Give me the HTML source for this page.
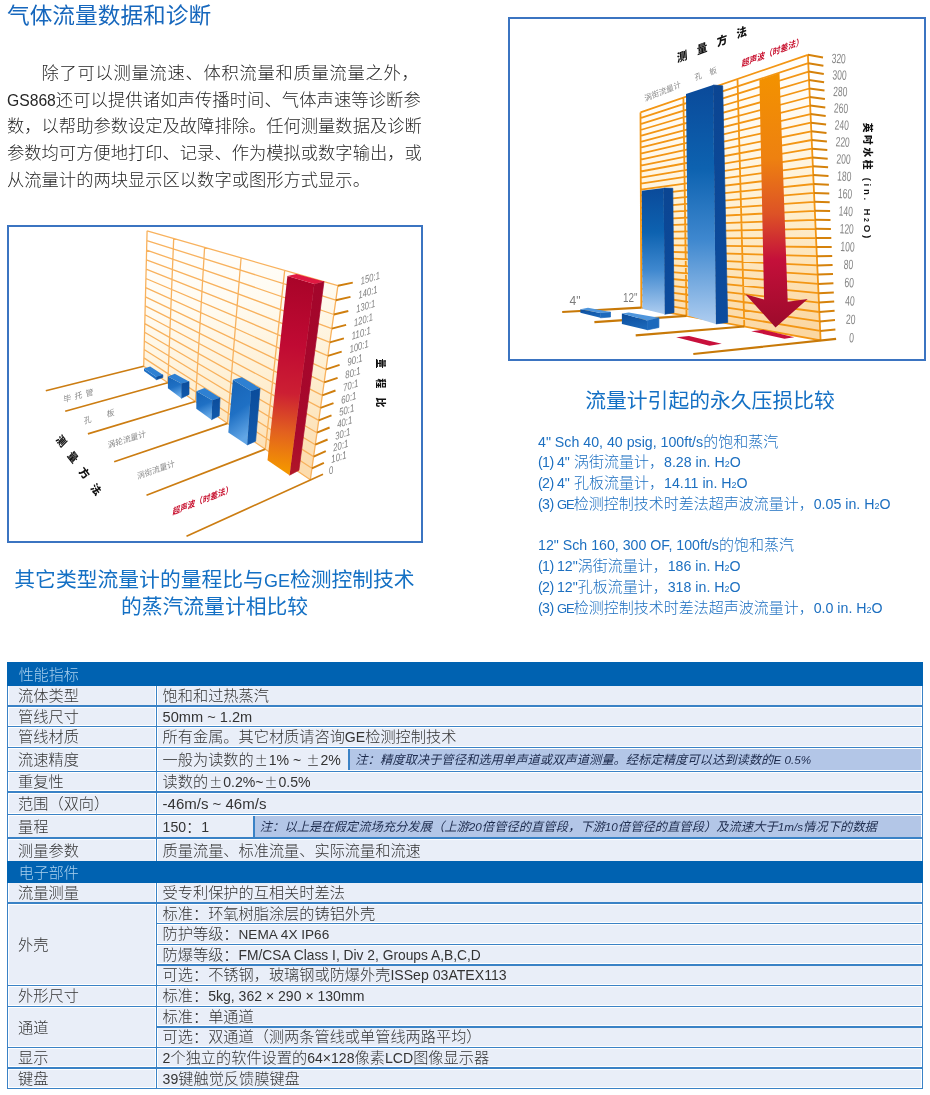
<!DOCTYPE html>
<html lang="zh-CN">
<head>
<meta charset="utf-8">
<title>气体流量数据和诊断</title>
<style>
html,body{margin:0;padding:0;background:#fff;}
body{width:930px;height:1095px;position:relative;overflow:hidden;font-family:"Liberation Sans","Noto Sans CJK SC",sans-serif;color:#333;}
.abs{position:absolute;white-space:nowrap;}
h1{position:absolute;left:7px;top:0px;margin:0;font-size:22.7px;line-height:30px;font-weight:400;color:#1667bd;white-space:nowrap;transform:scaleY(0.96);transform-origin:0 25px;}
.para{position:absolute;left:7px;top:60px;width:420px;font-size:17.3px;line-height:26.7px;font-weight:300;color:#262626;white-space:nowrap;}
.box{position:absolute;border:2px solid #3b74c1;background:#fff;box-sizing:border-box;}
.cap{position:absolute;font-size:20.8px;line-height:26.6px;font-weight:400;color:#1470c4;text-align:center;white-space:nowrap;}
.list{position:absolute;left:538px;top:431.5px;font-size:15px;line-height:20.8px;font-weight:300;color:#1c6fc0;white-space:nowrap;}
.list sub .l{font-size:9px;}
.list sub{font-size:9px;vertical-align:baseline;position:relative;top:0;line-height:0;}
.list .p{letter-spacing:-0.6px;}
.list .ge{font-size:13px;letter-spacing:-1px;}
/* table */
.tbl{position:absolute;background:#fff;}
.hl{position:absolute;height:1.6px;background:#3a82c6;}
.vl{position:absolute;width:1.4px;background:#3a82c6;}
.r{position:absolute;left:0;right:2.1px;background:#e9eef8;font-size:15.2px;font-weight:300;color:#333;white-space:nowrap;}
.h{position:absolute;left:0;right:0;background:#0062b1;z-index:2;color:#a9d0ee;font-size:15px;font-weight:300;white-space:nowrap;}
.c1{position:absolute;left:9.5px;top:0;}
.c2{position:absolute;left:4.5px;top:0;}
.h .c1{left:12.2px;}
.l{font-size:14.2px;line-height:0;}
.tbl .l{font-size:14.1px;}
.ln{font-size:11.7px;}
.pm{font-family:"Noto Sans CJK SC",sans-serif;display:inline-block;width:15px;text-align:center;font-size:13px;}
.vd{position:absolute;left:149px;width:2px;background:#3a82c6;}
.note{position:absolute;top:0;bottom:0;right:0;background:#b3c6e7;border-left:2px solid #3a82c6;font-size:12.3px;font-style:italic;font-weight:400;color:#1d2b4d;padding-left:5px;}
</style>
</head>
<body>
<h1>气体流量数据和诊断</h1>
<div class="para">　　<span style="letter-spacing:0.72px">除了可以测量流速、体积流量和质量流量之外，</span><br><span style="font-size:15.7px;line-height:0">GS868</span><span style="letter-spacing:0.1px">还可以提供诸如声传播时间、气体声速等诊断参</span><br>数，以帮助参数设定及故障排除。任何测量数据及诊断<br>参数均可方便地打印、记录、作为模拟或数字输出，或<br>从流量计的两块显示区以数字或图形方式显示。</div>

<div class="box" id="boxL" style="left:6.5px;top:225px;width:416px;height:318px;"></div>
<svg style="position:absolute;left:8px;top:227px;" width="413" height="315" viewBox="8 227 413 315">
<defs>
<linearGradient id="lw" gradientUnits="userSpaceOnUse" x1="200" y1="235" x2="240" y2="475"><stop offset="0" stop-color="#ffffff"/><stop offset="0.3" stop-color="#fffbf1"/><stop offset="0.65" stop-color="#feeed0"/><stop offset="1" stop-color="#fcdcae"/></linearGradient>
<linearGradient id="lbf" x1="0" y1="0" x2="0.25" y2="1"><stop offset="0" stop-color="#1663b6"/><stop offset="0.55" stop-color="#1f70c4"/><stop offset="1" stop-color="#62a6e6"/></linearGradient>
<linearGradient id="lbs" x1="0" y1="0" x2="0" y2="1"><stop offset="0" stop-color="#0b4c9b"/><stop offset="1" stop-color="#125aac"/></linearGradient>
<linearGradient id="lrf" gradientUnits="userSpaceOnUse" x1="300" y1="278" x2="278" y2="470"><stop offset="0" stop-color="#a90429"/><stop offset="0.35" stop-color="#c00a33"/><stop offset="0.6" stop-color="#cc1f33"/><stop offset="0.8" stop-color="#e2601f"/><stop offset="1" stop-color="#f49600"/></linearGradient>
<linearGradient id="lrs" gradientUnits="userSpaceOnUse" x1="318" y1="283" x2="294" y2="472"><stop offset="0" stop-color="#a3062b"/><stop offset="0.8" stop-color="#a8082c"/><stop offset="1" stop-color="#b01628"/></linearGradient>
</defs>
<polygon points="147.1,230.8 337.9,285.7 310.3,479.8 143.7,366.3" fill="url(#lw)"/>
<path d="M147.1 230.8L337.9 285.7M146.9 240.6L335.8 300.2M146.6 250.2L333.8 314.5M146.4 259.8L331.8 328.6M146.1 269.2L329.8 342.4M145.9 278.5L327.9 355.9M145.7 287.7L326.0 369.3M145.4 296.8L324.2 382.4M145.2 305.9L322.3 395.3M145.0 314.8L320.5 407.9M144.8 323.6L318.7 420.4M144.6 332.3L317.0 432.7M144.3 341.0L315.3 444.7M144.1 349.5L313.6 456.6M143.9 357.9L311.9 468.3M143.7 366.3L310.3 479.8M147.1 230.8L143.7 366.3M173.7 238.4L167.8 382.7M204.6 247.3L195.4 401.5M241.1 257.8L227.5 423.4M284.7 270.4L265.3 449.1M337.9 285.7L310.3 479.8" fill="none" stroke="#f8b25e" stroke-width="1.3"/>
<path d="M45.8 390.8L143.7 366.3M65.2 411.2L167.8 382.7M87.9 433.9L195.4 401.5M114.2 461.7L227.5 423.4M146.5 495.3L265.3 449.1M186.5 536.3L323.0 474.2" fill="none" stroke="#cc7d12" stroke-width="1.7"/>
<path d="M337.9 285.7L352.8 282.6M335.8 300.2L350.5 296.9M333.8 314.5L348.3 311.0M331.8 328.6L346.1 324.8M329.8 342.4L343.9 338.4M327.9 355.9L341.7 351.7M326.0 369.3L339.6 364.9M324.2 382.4L337.6 377.8M322.3 395.3L335.5 390.5M320.5 407.9L333.5 403.1M318.7 420.4L331.5 415.4M317.0 432.7L329.6 427.5M315.3 444.7L327.6 439.5M313.6 456.6L325.8 451.2M311.9 468.3L323.9 462.8" fill="none" stroke="#cf7e0e" stroke-width="1.9"/>
<text transform="translate(361.1 284.7) rotate(-18) skewX(-12)" font-family="Liberation Sans, Noto Sans CJK SC, sans-serif" font-size="10.4" font-style="italic" fill="#808080" textLength="20" lengthAdjust="spacingAndGlyphs">150:1</text>
<text transform="translate(358.8 298.8) rotate(-18) skewX(-12)" font-family="Liberation Sans, Noto Sans CJK SC, sans-serif" font-size="10.4" font-style="italic" fill="#808080" textLength="20" lengthAdjust="spacingAndGlyphs">140:1</text>
<text transform="translate(356.5 312.7) rotate(-18) skewX(-12)" font-family="Liberation Sans, Noto Sans CJK SC, sans-serif" font-size="10.4" font-style="italic" fill="#808080" textLength="20" lengthAdjust="spacingAndGlyphs">130:1</text>
<text transform="translate(354.3 326.4) rotate(-18) skewX(-12)" font-family="Liberation Sans, Noto Sans CJK SC, sans-serif" font-size="10.4" font-style="italic" fill="#808080" textLength="20" lengthAdjust="spacingAndGlyphs">120:1</text>
<text transform="translate(352.1 339.8) rotate(-18) skewX(-12)" font-family="Liberation Sans, Noto Sans CJK SC, sans-serif" font-size="10.4" font-style="italic" fill="#808080" textLength="20" lengthAdjust="spacingAndGlyphs">110:1</text>
<text transform="translate(349.9 353.0) rotate(-18) skewX(-12)" font-family="Liberation Sans, Noto Sans CJK SC, sans-serif" font-size="10.4" font-style="italic" fill="#808080" textLength="20" lengthAdjust="spacingAndGlyphs">100:1</text>
<text transform="translate(347.7 366.0) rotate(-18) skewX(-12)" font-family="Liberation Sans, Noto Sans CJK SC, sans-serif" font-size="10.4" font-style="italic" fill="#808080" textLength="16" lengthAdjust="spacingAndGlyphs">90:1</text>
<text transform="translate(345.6 378.8) rotate(-18) skewX(-12)" font-family="Liberation Sans, Noto Sans CJK SC, sans-serif" font-size="10.4" font-style="italic" fill="#808080" textLength="16" lengthAdjust="spacingAndGlyphs">80:1</text>
<text transform="translate(343.5 391.4) rotate(-18) skewX(-12)" font-family="Liberation Sans, Noto Sans CJK SC, sans-serif" font-size="10.4" font-style="italic" fill="#808080" textLength="16" lengthAdjust="spacingAndGlyphs">70:1</text>
<text transform="translate(341.5 403.9) rotate(-18) skewX(-12)" font-family="Liberation Sans, Noto Sans CJK SC, sans-serif" font-size="10.4" font-style="italic" fill="#808080" textLength="16" lengthAdjust="spacingAndGlyphs">60:1</text>
<text transform="translate(339.4 416.1) rotate(-18) skewX(-12)" font-family="Liberation Sans, Noto Sans CJK SC, sans-serif" font-size="10.4" font-style="italic" fill="#808080" textLength="16" lengthAdjust="spacingAndGlyphs">50:1</text>
<text transform="translate(337.4 428.1) rotate(-18) skewX(-12)" font-family="Liberation Sans, Noto Sans CJK SC, sans-serif" font-size="10.4" font-style="italic" fill="#808080" textLength="16" lengthAdjust="spacingAndGlyphs">40:1</text>
<text transform="translate(335.5 439.9) rotate(-18) skewX(-12)" font-family="Liberation Sans, Noto Sans CJK SC, sans-serif" font-size="10.4" font-style="italic" fill="#808080" textLength="16" lengthAdjust="spacingAndGlyphs">30:1</text>
<text transform="translate(333.5 451.6) rotate(-18) skewX(-12)" font-family="Liberation Sans, Noto Sans CJK SC, sans-serif" font-size="10.4" font-style="italic" fill="#808080" textLength="16" lengthAdjust="spacingAndGlyphs">20:1</text>
<text transform="translate(331.6 463.1) rotate(-18) skewX(-12)" font-family="Liberation Sans, Noto Sans CJK SC, sans-serif" font-size="10.4" font-style="italic" fill="#808080" textLength="16" lengthAdjust="spacingAndGlyphs">10:1</text>
<text transform="translate(329.3 474.6) rotate(-18) skewX(-12)" font-family="Liberation Sans, Noto Sans CJK SC, sans-serif" font-size="10.4" font-style="italic" fill="#808080" textLength="4.5" lengthAdjust="spacingAndGlyphs">0</text>
<polygon points="156.2,376.8 162.8,374.8 162.8,377.5 156.2,379.8" fill="#0c509f" stroke="#0c509f" stroke-width="0.7" stroke-linejoin="round"/>
<polygon points="144.0,368.6 156.2,376.8 156.2,379.8 144.0,371.0" fill="#1f70c4"/>
<polygon points="144.0,368.6 150.2,366.5 162.8,374.8 156.2,376.8" fill="#2e80d2"/>
<polygon points="181.3,383.5 189.0,381.5 189.0,394.4 181.3,398.3" fill="url(#lbs)" stroke="url(#lbs)" stroke-width="0.7" stroke-linejoin="round"/>
<polygon points="167.9,376.6 181.3,383.5 181.3,398.3 167.9,388.2" fill="url(#lbf)"/>
<polygon points="167.9,376.6 174.8,373.7 189.0,381.5 181.3,383.5" fill="#2e80d2"/>
<polygon points="212.3,400.3 220.0,397.7 219.2,415.8 211.5,419.7" fill="url(#lbs)" stroke="url(#lbs)" stroke-width="0.7" stroke-linejoin="round"/>
<polygon points="196.3,391.3 212.3,400.3 211.5,419.7 196.3,408.8" fill="url(#lbf)"/>
<polygon points="196.3,391.3 204.5,388.0 220.0,397.7 212.3,400.3" fill="#2e80d2"/>
<polygon points="251.0,391.0 260.0,388.3 255.6,441.2 247.1,445.0" fill="url(#lbs)" stroke="url(#lbs)" stroke-width="0.7" stroke-linejoin="round"/>
<polygon points="232.9,379.8 251.0,391.0 247.1,445.0 228.3,432.5" fill="url(#lbf)"/>
<polygon points="232.9,379.8 241.8,377.2 260.0,388.3 251.0,391.0" fill="#2e80d2"/>
<polygon points="314.3,283.9 324.0,281.5 298.9,470.3 289.5,475.2" fill="url(#lrs)" stroke="url(#lrs)" stroke-width="0.7" stroke-linejoin="round"/>
<polygon points="287.4,276.1 314.3,283.9 289.5,475.2 267.5,460.3" fill="url(#lrf)"/>
<polygon points="287.4,276.1 296.6,274.0 324.0,281.5 314.3,283.9" fill="#df1841"/>
<text transform="translate(63.5 402.5) rotate(-14.5) skewX(-12)" font-family="Liberation Sans, Noto Sans CJK SC, sans-serif" font-size="8" fill="#8a8a8a" textLength="31">毕 托 管</text>
<text transform="translate(84 424) rotate(-16.5) skewX(-12)" font-family="Liberation Sans, Noto Sans CJK SC, sans-serif" font-size="8" fill="#8a8a8a" textLength="32">孔　 板</text>
<text transform="translate(108 448.3) rotate(-17.5) skewX(-12)" font-family="Liberation Sans, Noto Sans CJK SC, sans-serif" font-size="8" fill="#8a8a8a" >涡轮流量计</text>
<text transform="translate(137.5 479.3) rotate(-19.5) skewX(-12)" font-family="Liberation Sans, Noto Sans CJK SC, sans-serif" font-size="8" fill="#8a8a8a" >涡街流量计</text>
<text transform="translate(172.5 515) rotate(-21.5) skewX(-12)" font-family="Liberation Sans, Noto Sans CJK SC, sans-serif" font-size="8.1" fill="#c8102e" font-style="italic" font-weight="700">超声波（时差法）</text>
<text transform="translate(61.5 441.1) rotate(52) skewX(8)" font-family="Liberation Sans, Noto Sans CJK SC, sans-serif" font-size="10.5" font-weight="900" fill="#111" text-anchor="middle" dy="3.8">测</text>
<text transform="translate(72.9 457) rotate(52) skewX(8)" font-family="Liberation Sans, Noto Sans CJK SC, sans-serif" font-size="10.5" font-weight="900" fill="#111" text-anchor="middle" dy="3.8">量</text>
<text transform="translate(84.4 473) rotate(52) skewX(8)" font-family="Liberation Sans, Noto Sans CJK SC, sans-serif" font-size="10.5" font-weight="900" fill="#111" text-anchor="middle" dy="3.8">方</text>
<text transform="translate(95.9 489.3) rotate(52) skewX(8)" font-family="Liberation Sans, Noto Sans CJK SC, sans-serif" font-size="10.5" font-weight="900" fill="#111" text-anchor="middle" dy="3.8">法</text>
<text transform="translate(380.5 363.5) rotate(90)" font-family="Liberation Sans, Noto Sans CJK SC, sans-serif" font-size="9.8" font-weight="900" fill="#111" text-anchor="middle" dy="3.6">量</text>
<text transform="translate(380.5 383.5) rotate(90)" font-family="Liberation Sans, Noto Sans CJK SC, sans-serif" font-size="9.8" font-weight="900" fill="#111" text-anchor="middle" dy="3.6">程</text>
<text transform="translate(380.5 402.5) rotate(90)" font-family="Liberation Sans, Noto Sans CJK SC, sans-serif" font-size="9.8" font-weight="900" fill="#111" text-anchor="middle" dy="3.6">比</text>
</svg>
<div class="box" id="boxR" style="left:508px;top:17px;width:417.6px;height:344px;"></div>
<svg style="position:absolute;left:510px;top:19px;" width="414" height="340" viewBox="510 19 414 340">
<defs>
<linearGradient id="rw" gradientUnits="userSpaceOnUse" x1="700" y1="60" x2="740" y2="340"><stop offset="0" stop-color="#ffffff"/><stop offset="0.25" stop-color="#fffaf0"/><stop offset="0.6" stop-color="#feedcb"/><stop offset="1" stop-color="#fbd7a2"/></linearGradient>
<linearGradient id="rbf" x1="0" y1="0" x2="0" y2="1"><stop offset="0" stop-color="#0a4a9a"/><stop offset="0.35" stop-color="#0d62b0"/><stop offset="0.65" stop-color="#3f88cf"/><stop offset="1" stop-color="#aecdf0"/></linearGradient>
<linearGradient id="rbs" x1="0" y1="0" x2="0" y2="1"><stop offset="0" stop-color="#0b4592"/><stop offset="1" stop-color="#0c4c9e"/></linearGradient>
<linearGradient id="rsf" x1="0" y1="0" x2="0.3" y2="1"><stop offset="0" stop-color="#0b4c9b"/><stop offset="1" stop-color="#1a66b8"/></linearGradient>
<linearGradient id="rar" gradientUnits="userSpaceOnUse" x1="770" y1="75" x2="776" y2="328"><stop offset="0" stop-color="#f39200"/><stop offset="0.33" stop-color="#ee8110"/><stop offset="0.55" stop-color="#dd5226"/><stop offset="0.73" stop-color="#c4103a"/><stop offset="1" stop-color="#9c0a2b"/></linearGradient>
</defs>
<polygon points="640.5,112.4 807.9,54.8 820.6,340.4 641.3,307.7" fill="url(#rw)"/>
<path d="M640.5 112.4L807.9 54.8M640.5 118.2L808.3 63.2M640.5 124.1L808.6 71.6M640.6 130.0L809.0 80.0M640.6 135.9L809.4 88.5M640.6 141.8L809.8 97.0M640.6 147.7L810.2 105.5M640.7 153.6L810.5 114.1M640.7 159.6L810.9 122.7M640.7 165.6L811.3 131.3M640.7 171.5L811.7 140.0M640.8 177.6L812.1 148.7M640.8 183.6L812.5 157.5M640.8 189.6L812.9 166.3M640.8 195.7L813.2 175.1M640.9 201.7L813.6 184.0M640.9 207.8L814.0 192.9M640.9 213.9L814.4 201.8M640.9 220.1L814.8 210.8M641.0 226.2L815.2 219.8M641.0 232.4L815.6 228.8M641.0 238.6L816.0 237.9M641.0 244.8L816.4 247.0M641.1 251.0L816.9 256.2M641.1 257.2L817.3 265.4M641.1 263.4L817.7 274.6M641.1 269.7L818.1 283.9M641.2 276.0L818.5 293.2M641.2 282.3L818.9 302.6M641.2 288.6L819.3 312.0M641.2 295.0L819.8 321.4M641.3 301.3L820.2 330.9M641.3 307.7L820.6 340.4M640.5 112.4L641.3 307.7M683.4 97.6L686.5 315.9M737.5 79.0L744.3 326.5M807.9 54.8L820.6 340.4" fill="none" stroke="#f39614" stroke-width="1.8"/>
<path d="M562.2 312.0L641.3 307.7M594.4 322.2L686.5 315.9M635.7 335.3L744.3 326.5M693.3 354.0L836.1 338.9" fill="none" stroke="#c87908" stroke-width="2.2"/>
<path d="M807.9 54.8L823.0 57.4M808.3 63.2L823.4 65.7M808.6 71.6L823.8 74.0M809.0 80.0L824.1 82.3M809.4 88.5L824.5 90.6M809.8 97.0L824.9 99.0M810.2 105.5L825.3 107.4M810.5 114.1L825.7 115.9M810.9 122.7L826.1 124.4M811.3 131.3L826.5 132.9M811.7 140.0L826.9 141.4M812.1 148.7L827.3 150.0M812.5 157.5L827.7 158.7M812.9 166.3L828.1 167.3M813.2 175.1L828.5 176.0M813.6 184.0L828.9 184.7M814.0 192.9L829.3 193.5M814.4 201.8L829.7 202.3M814.8 210.8L830.1 211.1M815.2 219.8L830.5 220.0M815.6 228.8L830.9 228.9M816.0 237.9L831.3 237.9M816.4 247.0L831.7 246.9M816.9 256.2L832.2 255.9M817.3 265.4L832.6 264.9M817.7 274.6L833.0 274.0M818.1 283.9L833.4 283.2M818.5 293.2L833.8 292.4M818.9 302.6L834.2 301.6M819.3 312.0L834.6 310.8M819.8 321.4L835.0 320.1M820.2 330.9L835.4 329.5" fill="none" stroke="#d5820c" stroke-width="2"/>
<text transform="translate(831.4 62.9) rotate(2.5)" font-family="Liberation Sans, Noto Sans CJK SC, sans-serif" font-size="13.6" fill="#858585" textLength="14.2" lengthAdjust="spacingAndGlyphs">320</text>
<text transform="translate(832.2 79.4) rotate(2.5)" font-family="Liberation Sans, Noto Sans CJK SC, sans-serif" font-size="13.6" fill="#858585" textLength="14.2" lengthAdjust="spacingAndGlyphs">300</text>
<text transform="translate(833.0 95.9) rotate(2.5)" font-family="Liberation Sans, Noto Sans CJK SC, sans-serif" font-size="13.6" fill="#858585" textLength="14.2" lengthAdjust="spacingAndGlyphs">280</text>
<text transform="translate(833.8 112.6) rotate(2.5)" font-family="Liberation Sans, Noto Sans CJK SC, sans-serif" font-size="13.6" fill="#858585" textLength="14.2" lengthAdjust="spacingAndGlyphs">260</text>
<text transform="translate(834.6 129.4) rotate(2.5)" font-family="Liberation Sans, Noto Sans CJK SC, sans-serif" font-size="13.6" fill="#858585" textLength="14.2" lengthAdjust="spacingAndGlyphs">240</text>
<text transform="translate(835.4 146.3) rotate(2.5)" font-family="Liberation Sans, Noto Sans CJK SC, sans-serif" font-size="13.6" fill="#858585" textLength="14.2" lengthAdjust="spacingAndGlyphs">220</text>
<text transform="translate(836.2 163.4) rotate(2.5)" font-family="Liberation Sans, Noto Sans CJK SC, sans-serif" font-size="13.6" fill="#858585" textLength="14.2" lengthAdjust="spacingAndGlyphs">200</text>
<text transform="translate(837.0 180.6) rotate(2.5)" font-family="Liberation Sans, Noto Sans CJK SC, sans-serif" font-size="13.6" fill="#858585" textLength="14.2" lengthAdjust="spacingAndGlyphs">180</text>
<text transform="translate(837.8 198.0) rotate(2.5)" font-family="Liberation Sans, Noto Sans CJK SC, sans-serif" font-size="13.6" fill="#858585" textLength="14.2" lengthAdjust="spacingAndGlyphs">160</text>
<text transform="translate(838.6 215.5) rotate(2.5)" font-family="Liberation Sans, Noto Sans CJK SC, sans-serif" font-size="13.6" fill="#858585" textLength="14.2" lengthAdjust="spacingAndGlyphs">140</text>
<text transform="translate(839.4 233.2) rotate(2.5)" font-family="Liberation Sans, Noto Sans CJK SC, sans-serif" font-size="13.6" fill="#858585" textLength="14.2" lengthAdjust="spacingAndGlyphs">120</text>
<text transform="translate(840.2 251.0) rotate(2.5)" font-family="Liberation Sans, Noto Sans CJK SC, sans-serif" font-size="13.6" fill="#858585" textLength="14.2" lengthAdjust="spacingAndGlyphs">100</text>
<text transform="translate(843.4 268.9) rotate(2.5)" font-family="Liberation Sans, Noto Sans CJK SC, sans-serif" font-size="13.6" fill="#858585" textLength="9.6" lengthAdjust="spacingAndGlyphs">80</text>
<text transform="translate(844.2 287.0) rotate(2.5)" font-family="Liberation Sans, Noto Sans CJK SC, sans-serif" font-size="13.6" fill="#858585" textLength="9.6" lengthAdjust="spacingAndGlyphs">60</text>
<text transform="translate(845.0 305.3) rotate(2.5)" font-family="Liberation Sans, Noto Sans CJK SC, sans-serif" font-size="13.6" fill="#858585" textLength="9.6" lengthAdjust="spacingAndGlyphs">40</text>
<text transform="translate(845.8 323.7) rotate(2.5)" font-family="Liberation Sans, Noto Sans CJK SC, sans-serif" font-size="13.6" fill="#858585" textLength="9.6" lengthAdjust="spacingAndGlyphs">20</text>
<text transform="translate(848.9 342.3) rotate(2.5)" font-family="Liberation Sans, Noto Sans CJK SC, sans-serif" font-size="13.6" fill="#858585" textLength="4.8" lengthAdjust="spacingAndGlyphs">0</text>
<polygon points="676.1,337.2 689.0,336.1 721.7,343.7 709.5,345.8" fill="#c8103c"/>
<polygon points="751.2,331.2 763.0,329.7 794.2,337.2 784.5,338.7" fill="#c8103c"/>
<polygon points="759.4,79.9 779.5,72.9 787.7,301.7 807.7,299.1 775.5,327.5 745.4,294.2 764.1,299.6" fill="url(#rar)"/>
<polygon points="663.7,188.1 672.8,188.3 674.0,312.7 664.7,314.2" fill="url(#rbs)" stroke="url(#rbs)" stroke-width="0.7" stroke-linejoin="round"/>
<polygon points="641.8,190.7 663.7,188.1 664.7,314.2 642.4,308.8" fill="url(#rbf)"/>
<polygon points="713.1,85.0 722.7,85.8 727.7,322.4 715.9,323.9" fill="url(#rbs)" stroke="url(#rbs)" stroke-width="0.7" stroke-linejoin="round"/>
<polygon points="686.0,93.9 713.1,85.0 715.9,323.9 688.4,315.7" fill="url(#rbf)"/>
<polygon points="600.4,313.1 610.5,312.0 610.5,317.0 600.4,317.8" fill="#1c69bc" stroke="#1c69bc" stroke-width="0.7" stroke-linejoin="round"/>
<polygon points="580.4,309.2 600.4,313.1 600.4,317.8 580.4,312.7" fill="url(#rsf)"/>
<polygon points="580.4,309.2 588.0,307.7 610.5,312.0 600.4,313.1" fill="#4f96dd"/>
<polygon points="647.1,320.6 658.9,317.8 658.9,327.5 647.1,329.9" fill="#1c69bc" stroke="#1c69bc" stroke-width="0.7" stroke-linejoin="round"/>
<polygon points="621.9,313.5 647.1,320.6 647.1,329.9 621.9,323.9" fill="url(#rsf)"/>
<polygon points="621.9,313.5 628.8,312.5 658.9,317.8 647.1,320.6" fill="#4f96dd"/>
<text transform="translate(645 101.5) rotate(-22) skewX(-12)" font-family="Liberation Sans, Noto Sans CJK SC, sans-serif" font-size="7.8" fill="#8a8a8a" >涡街流量计</text>
<text transform="translate(695 80.5) rotate(-20) skewX(-12)" font-family="Liberation Sans, Noto Sans CJK SC, sans-serif" font-size="7.8" fill="#8a8a8a" >孔　板</text>
<text transform="translate(741.5 67) rotate(-20.5) skewX(-12)" font-family="Liberation Sans, Noto Sans CJK SC, sans-serif" font-size="8.3" fill="#c8102e" font-style="italic" font-weight="700">超声波（时差法）</text>
<text transform="translate(682 56.5) rotate(-20) skewX(-16)" font-family="Liberation Sans, Noto Sans CJK SC, sans-serif" font-size="11" font-weight="900" fill="#111" text-anchor="middle" dy="4">测</text>
<text transform="translate(702 48.5) rotate(-20) skewX(-16)" font-family="Liberation Sans, Noto Sans CJK SC, sans-serif" font-size="11" font-weight="900" fill="#111" text-anchor="middle" dy="4">量</text>
<text transform="translate(722 40.5) rotate(-20) skewX(-16)" font-family="Liberation Sans, Noto Sans CJK SC, sans-serif" font-size="11" font-weight="900" fill="#111" text-anchor="middle" dy="4">方</text>
<text transform="translate(741.5 32.5) rotate(-20) skewX(-16)" font-family="Liberation Sans, Noto Sans CJK SC, sans-serif" font-size="11" font-weight="900" fill="#111" text-anchor="middle" dy="4">法</text>
<text x="569.5" y="304.5" font-family="Liberation Sans, Noto Sans CJK SC, sans-serif" font-size="12" fill="#7c7c7c" textLength="11" lengthAdjust="spacingAndGlyphs">4"</text>
<text x="623" y="302" font-family="Liberation Sans, Noto Sans CJK SC, sans-serif" font-size="12" fill="#7c7c7c" textLength="14.5" lengthAdjust="spacingAndGlyphs">12"</text>
<text transform="translate(864 122.7) rotate(90)" font-family="Liberation Sans, Noto Sans CJK SC, sans-serif" font-size="9.7" font-weight="900" fill="#111" textLength="115.5" lengthAdjust="spacing">英吋水柱 (in. H<tspan font-size="7">2</tspan>O)</text>
</svg>

<div class="cap" style="left:7px;width:415px;top:567px;">其它类型流量计的量程比与<span style="font-size:18px;line-height:0">GE</span>检测控制技术<br>的蒸汽流量计相比较</div>
<div class="cap" style="left:560px;width:300px;top:388px;">流量计引起的永久压损比较</div>

<div class="list"><span class="l">4" Sch 40, 40 psig, 100ft/s</span>的饱和蒸汽<br><span class="l p">(1) </span><span class="l">4"</span> 涡街流量计，<span class="l">8.28 in. H</span><sub><span class="l">2</span></sub><span class="l">O</span><br><span class="l p">(2) </span><span class="l">4"</span> 孔板流量计，<span class="l">14.11 in. H</span><sub><span class="l">2</span></sub><span class="l">O</span><br><span class="l p">(3) </span><span class="l ge">GE</span>检测控制技术时差法超声波流量计，<span class="l">0.05 in. H</span><sub><span class="l">2</span></sub><span class="l">O</span><br><br><span class="l">12" Sch 160, 300 OF, 100ft/s</span>的饱和蒸汽<br><span class="l p">(1) </span><span class="l">12"</span>涡街流量计，<span class="l">186 in. H</span><sub><span class="l">2</span></sub><span class="l">O</span><br><span class="l p">(2) </span><span class="l">12"</span>孔板流量计，<span class="l">318 in. H</span><sub><span class="l">2</span></sub><span class="l">O</span><br><span class="l p">(3) </span><span class="l ge">GE</span>检测控制技术时差法超声波流量计，<span class="l">0.0 in. H</span><sub><span class="l">2</span></sub><span class="l">O</span></div>

<div class="tbl" style="left:6.5px;top:661.5px;width:916.7px;height:427.8px;">
<div class="h" style="top:0.0px;height:24.0px;line-height:25.0px;"><span class="c1">性能指标</span></div>
<div class="hl" style="left:0.6px;width:149.4px;top:43.7px;"></div>
<div class="r" style="left:2.1px;width:146.5px;right:auto;top:24.0px;height:19.0px;line-height:20.0px;"><span class="c1">流体类型</span></div>
<div class="hl" style="left:149.3px;width:766.8px;top:43.7px;"></div>
<div class="r" style="left:151.6px;top:24.0px;height:19.0px;line-height:20.0px;"><span class="c2">饱和和过热蒸汽</span></div>
<div class="hl" style="left:0.6px;width:149.4px;top:64.4px;"></div>
<div class="r" style="left:2.1px;width:146.5px;right:auto;top:46.0px;height:17.7px;line-height:18.7px;"><span class="c1">管线尺寸</span></div>
<div class="hl" style="left:149.3px;width:766.8px;top:64.4px;"></div>
<div class="r" style="left:151.6px;top:46.0px;height:17.7px;line-height:18.7px;"><span class="c2"><span class="l" style="font-size:14.6px">50mm ~ 1.2m</span></span></div>
<div class="hl" style="left:0.6px;width:149.4px;top:85.2px;"></div>
<div class="r" style="left:2.1px;width:146.5px;right:auto;top:66.7px;height:17.8px;line-height:18.8px;"><span class="c1">管线材质</span></div>
<div class="hl" style="left:149.3px;width:766.8px;top:85.2px;"></div>
<div class="r" style="left:151.6px;top:66.7px;height:17.8px;line-height:18.8px;"><span class="c2">所有金属。其它材质请咨询<span class="l">GE</span>检测控制技术</span></div>
<div class="hl" style="left:0.6px;width:149.4px;top:109.0px;"></div>
<div class="r" style="left:2.1px;width:146.5px;right:auto;top:87.5px;height:20.8px;line-height:21.8px;"><span class="c1">流速精度</span></div>
<div class="hl" style="left:149.3px;width:766.8px;top:109.0px;"></div>
<div class="r" style="left:151.6px;top:87.5px;height:20.8px;line-height:21.8px;"><span class="c2">一般为读数的<span class="pm">±</span><span class="l">1% ~</span> <span class="pm">±</span><span class="l">2%</span></span><span class="note" style="left:190.2px;line-height:21.8px;">注：精度取决于管径和选用单声道或双声道测量。经标定精度可以达到读数的<span class="ln">E 0.5%</span></span></div>
<div class="hl" style="left:0.6px;width:149.4px;top:129.7px;"></div>
<div class="r" style="left:2.1px;width:146.5px;right:auto;top:111.3px;height:17.7px;line-height:18.7px;"><span class="c1">重复性</span></div>
<div class="hl" style="left:149.3px;width:766.8px;top:129.7px;"></div>
<div class="r" style="left:151.6px;top:111.3px;height:17.7px;line-height:18.7px;"><span class="c2">读数的<span class="pm">±</span><span class="l">0.2%~</span><span class="pm">±</span><span class="l">0.5%</span></span></div>
<div class="hl" style="left:0.6px;width:149.4px;top:152.2px;"></div>
<div class="r" style="left:2.1px;width:146.5px;right:auto;top:132.0px;height:19.5px;line-height:20.5px;"><span class="c1">范围（双向）</span></div>
<div class="hl" style="left:149.3px;width:766.8px;top:152.2px;"></div>
<div class="r" style="left:151.6px;top:132.0px;height:19.5px;line-height:20.5px;"><span class="c2"><span class="l" style="font-size:15.0px">-46m/s ~ 46m/s</span></span></div>
<div class="hl" style="left:0.6px;width:149.4px;top:175.7px;"></div>
<div class="r" style="left:2.1px;width:146.5px;right:auto;top:154.5px;height:20.5px;line-height:21.5px;"><span class="c1">量程</span></div>
<div class="hl" style="left:149.3px;width:766.8px;top:175.7px;"></div>
<div class="r" style="left:151.6px;top:154.5px;height:20.5px;line-height:21.5px;"><span class="c2"><span class="l">150</span>：<span class="l">1</span></span><span class="note" style="left:94.7px;line-height:21.5px;">注：以上是在假定流场充分发展（上游<span class="ln">20</span>倍管径的直管段，下游<span class="ln">10</span>倍管径的直管段）及流速大于<span class="ln">1m/s</span>情况下的数据</span></div>
<div class="hl" style="left:0.6px;width:149.4px;top:200.2px;"></div>
<div class="r" style="left:2.1px;width:146.5px;right:auto;top:178.0px;height:21.5px;line-height:22.5px;"><span class="c1">测量参数</span></div>
<div class="hl" style="left:149.3px;width:766.8px;top:200.2px;"></div>
<div class="r" style="left:151.6px;top:178.0px;height:21.5px;line-height:22.5px;"><span class="c2">质量流量、标准流量、实际流量和流速</span></div>
<div class="h" style="top:199.5px;height:22.0px;line-height:23.0px;"><span class="c1">电子部件</span></div>
<div class="hl" style="left:0.6px;width:149.4px;top:240.7px;"></div>
<div class="r" style="left:2.1px;width:146.5px;right:auto;top:221.5px;height:18.5px;line-height:19.5px;"><span class="c1">流量测量</span></div>
<div class="hl" style="left:149.3px;width:766.8px;top:240.7px;"></div>
<div class="r" style="left:151.6px;top:221.5px;height:18.5px;line-height:19.5px;"><span class="c2">受专利保护的互相关时差法</span></div>
<div class="hl" style="left:0.6px;width:149.4px;top:323.2px;"></div>
<div class="r" style="left:2.1px;width:146.5px;right:auto;top:243.0px;height:79.5px;line-height:80.5px;"><span class="c1">外壳</span></div>
<div class="hl" style="left:149.3px;width:766.8px;top:261.3px;"></div>
<div class="r" style="left:151.6px;top:243.0px;height:17.6px;line-height:18.6px;"><span class="c2">标准：环氧树脂涂层的铸铝外壳</span></div>
<div class="hl" style="left:149.3px;width:766.8px;top:282.0px;"></div>
<div class="r" style="left:151.6px;top:263.6px;height:17.6px;line-height:18.6px;"><span class="c2">防护等级：<span class="l" style="font-size:13.6px">NEMA 4X IP66</span></span></div>
<div class="hl" style="left:149.3px;width:766.8px;top:302.6px;"></div>
<div class="r" style="left:151.6px;top:284.2px;height:17.6px;line-height:18.6px;"><span class="c2">防爆等级：<span class="l" style="font-size:13.8px">FM/CSA Class I, Div 2, Groups A,B,C,D</span></span></div>
<div class="hl" style="left:149.3px;width:766.8px;top:323.2px;"></div>
<div class="r" style="left:151.6px;top:304.9px;height:17.6px;line-height:18.6px;"><span class="c2">可选：不锈钢，玻璃钢或防爆外壳<span class="l">ISSep 03ATEX113</span></span></div>
<div class="hl" style="left:0.6px;width:149.4px;top:344.0px;"></div>
<div class="r" style="left:2.1px;width:146.5px;right:auto;top:325.5px;height:17.8px;line-height:18.8px;"><span class="c1">外形尺寸</span></div>
<div class="hl" style="left:149.3px;width:766.8px;top:344.0px;"></div>
<div class="r" style="left:151.6px;top:325.5px;height:17.8px;line-height:18.8px;"><span class="c2">标准：<span class="l" style="font-size:14.05px">5kg, 362 × 290 × 130mm</span></span></div>
<div class="hl" style="left:0.6px;width:149.4px;top:385.3px;"></div>
<div class="r" style="left:2.1px;width:146.5px;right:auto;top:346.3px;height:38.3px;line-height:39.3px;"><span class="c1">通道</span></div>
<div class="hl" style="left:149.3px;width:766.8px;top:364.6px;"></div>
<div class="r" style="left:151.6px;top:346.3px;height:17.6px;line-height:18.6px;"><span class="c2">标准：单通道</span></div>
<div class="hl" style="left:149.3px;width:766.8px;top:385.3px;"></div>
<div class="r" style="left:151.6px;top:366.9px;height:17.7px;line-height:18.7px;"><span class="c2">可选：双通道（测两条管线或单管线两路平均）</span></div>
<div class="hl" style="left:0.6px;width:149.4px;top:405.7px;"></div>
<div class="r" style="left:2.1px;width:146.5px;right:auto;top:387.6px;height:17.4px;line-height:18.4px;"><span class="c1">显示</span></div>
<div class="hl" style="left:149.3px;width:766.8px;top:405.7px;"></div>
<div class="r" style="left:151.6px;top:387.6px;height:17.4px;line-height:18.4px;"><span class="c2"><span class="l">2</span>个独立的软件设置的<span class="l">64×128</span>像素<span class="l">LCD</span>图像显示器</span></div>
<div class="hl" style="left:0.6px;width:149.4px;top:426.2px;"></div>
<div class="r" style="left:2.1px;width:146.5px;right:auto;top:408.0px;height:17.5px;line-height:18.5px;"><span class="c1">键盘</span></div>
<div class="hl" style="left:149.3px;width:766.8px;top:426.2px;"></div>
<div class="r" style="left:151.6px;top:408.0px;height:17.5px;line-height:18.5px;"><span class="c2"><span class="l">39</span>键触觉反馈膜键盘</span></div>
<div class="vl" style="left:0;top:20px;height:407.8px;"></div>
<div class="vl" style="left:915.3px;top:20px;height:407.8px;"></div>
<div class="vl" style="left:149.1px;top:20px;height:407.8px;"></div>
</div>
</body>
</html>
